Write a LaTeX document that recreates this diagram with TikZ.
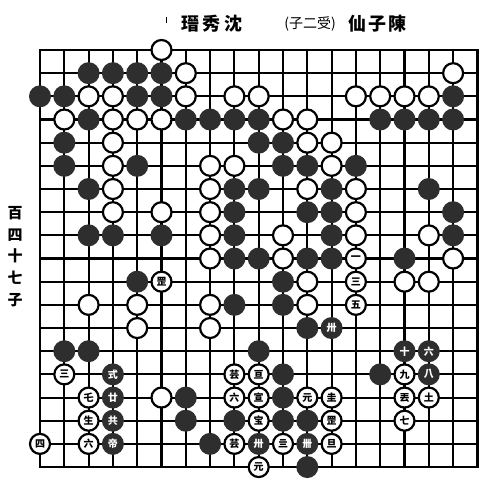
\documentclass[tikz,border=0pt]{standalone}
\usepackage{fontspec}
\newfontfamily\cjk{Noto Sans CJK TC}
\begin{document}
\begin{tikzpicture}[x=24.3pt,y=-23.17pt,
  gridline/.style={line width=2.1pt},
  border/.style={line width=2.5pt},
  wst/.style={circle, draw=black, line width=2.2pt, fill=white, minimum size=20pt, inner sep=0pt, font=\cjk\bfseries\fontsize{10}{10}\selectfont, text=black},
  bst/.style={circle, fill=black!82, minimum size=22pt, inner sep=0pt, font=\cjk\bfseries\fontsize{10}{10}\selectfont, text=white},
  ttl/.style={font=\cjk\bfseries\fontsize{18}{18}\selectfont, inner sep=0pt},
]
\useasboundingbox (-40pt,50pt) rectangle (447pt,-437pt);
% grid
\foreach \i in {1,...,17} {
  \draw[gridline] (\i,0) -- (\i,18);
  \draw[gridline] (0,\i) -- (18,\i);
}
\draw[border] (0,0) rectangle (18,18);
% white stones
\foreach \c/\r in {5/0,6/1,17/1,
  2/2,3/2,6/2,8/2,9/2,13/2,14/2,15/2,16/2,
  1/3,3/3,4/3,5/3,10/3,11/3,
  3/4,11/4,12/4,
  3/5,7/5,8/5,12/5,
  3/6,7/6,11/6,13/6,
  3/7,5/7,7/7,13/7,
  7/8,10/8,13/8,16/8,
  7/9,10/9,17/9,
  11/10,15/10,16/10,
  2/11,4/11,7/11,11/11,
  4/12,7/12,
  5/15}
  \node[wst] (w\c-\r) at (\c,\r) {};
% black stones
\foreach \c/\r in {2/1,3/1,4/1,5/1,
  0/2,1/2,4/2,5/2,17/2,
  2/3,6/3,7/3,8/3,9/3,14/3,15/3,16/3,17/3,
  1/4,9/4,10/4,
  1/5,4/5,10/5,11/5,13/5,
  2/6,8/6,9/6,12/6,16/6,
  8/7,11/7,12/7,17/7,
  2/8,3/8,5/8,8/8,12/8,17/8,
  8/9,9/9,11/9,12/9,15/9,
  4/10,10/10,
  8/11,10/11,
  11/12,
  1/13,2/13,9/13,
  10/14,14/14,
  6/15,10/15,
  6/16,8/16,10/16,11/16,
  7/17,
  11/18}
  \node[bst] (b\c-\r) at (\c,\r) {};
% labelled white stones
\foreach \c/\r/\t in {13/9/一,13/10/三,13/11/五,5/10/罡,1/14/三,2/15/乇,2/16/生,2/17/六,0/17/四,
  8/14/芸,9/14/亘,8/15/六,9/15/宣,11/15/元,12/15/圭,15/15/丟,16/15/土,15/14/九,
  9/16/宝,12/16/罡,15/16/七,8/17/芸,10/17/亖,12/17/旦,9/18/元}
  \node[wst] (w\c-\r) at (\c,\r) {\t};
% labelled black stones
\foreach \c/\r/\t in {12/12/卅,15/13/十,16/13/六,16/14/八,3/14/式,3/15/廿,3/16/共,3/17/帝,9/17/卅,11/17/卌}
  \node[bst] (b\c-\r) at (\c,\r) {\t};
% title
\node[ttl] (t1) at (172pt,26pt) {瑨\hspace{4pt}秀\hspace{4pt}沈};
\node[font=\cjk\fontsize{14}{14}\selectfont, inner sep=0pt] (t2) at (270pt,26pt) {(子二受)};
\node[ttl] (t3) at (337pt,26pt) {仙\hspace{2pt}子\hspace{2pt}陳};
\coordinate (tk1) at (126pt,33pt);
\coordinate (tk2) at (126pt,27pt);
\draw[line width=1pt] (tk1) -- (tk2);
% side text
\node[font=\cjk\bfseries\fontsize{15}{21.8}\selectfont, align=center, inner sep=0pt] (side) at (-25pt,-206.5pt) {百\\四\\十\\七\\子};
\end{tikzpicture}
\end{document}
